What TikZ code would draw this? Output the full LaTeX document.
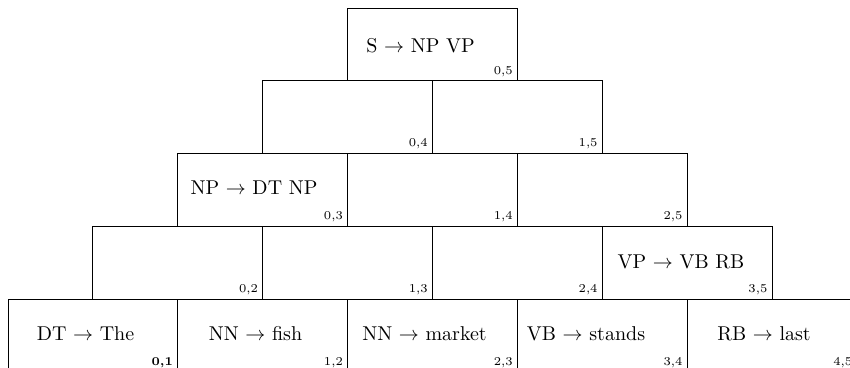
\documentclass[tikz,border=0pt]{standalone}
\begin{document}
\begin{tikzpicture}[x=0.5pt, y=-0.5pt,
  cell/.style={draw=black, line width=0.45pt, minimum width=84.9pt, minimum height=36.4pt, inner sep=0pt},
  rule/.style={font=\normalsize, inner sep=0pt},
  span/.style={font=\fontsize{6}{7}\selectfont, inner sep=0pt, anchor=base east}]
  % visible frame of the chart
  \clip (0,0) rectangle (850,368);
  \useasboundingbox (0,0) rectangle (850,368);
  % chart cells: cell (i,j) covers words i+1..j
  \foreach \i/\j in {0/1,1/2,2/3,3/4,4/5,0/2,1/3,2/4,3/5,0/3,1/4,2/5,0/4,1/5,0/5}{
    \pgfmathsetmacro{\r}{\j-\i}
    \pgfmathsetmacro{\cx}{8 + 84.9 + \i*169.8 + (\r-1)*84.9}
    \pgfmathsetmacro{\cy}{299 - (\r-1)*72.75 + 36.4}
    \node[cell] (c\i\j) at (\cx,\cy) {};
  }
  % span indices in the lower right corner of each cell
  \foreach \i/\j in {1/2,2/3,3/4,4/5,0/2,1/3,2/4,3/5,0/3,1/4,2/5,0/4,1/5,0/5}{
    \node[span] (s\i\j) at ([xshift=-2.4pt, yshift=3.6pt]c\i\j.south east) {\i,\j};
  }
  \node[span, font=\fontsize{6}{7}\selectfont\bfseries] (s01) at ([xshift=-2.4pt, yshift=3.6pt]c01.south east) {0,1};
  % grammar rules in the filled cells
  \node[rule] (r05) at (420.5,46) {S $\rightarrow$ NP VP};
  \node[rule] (r03) at (254,187.5) {NP $\rightarrow$ DT NP};
  \node[rule] (r35) at (681,262) {VP $\rightarrow$ VB RB};
  \node[rule] (r01) at (85.5,334) {DT $\rightarrow$ The};
  \node[rule] (r12) at (255.5,334) {NN $\rightarrow$ fish};
  \node[rule] (r23) at (424.5,334) {NN $\rightarrow$ market};
  \node[rule] (r34) at (586,334) {VB $\rightarrow$ stands};
  \node[rule] (r45) at (764,334) {RB $\rightarrow$ last};
\end{tikzpicture}
\end{document}
